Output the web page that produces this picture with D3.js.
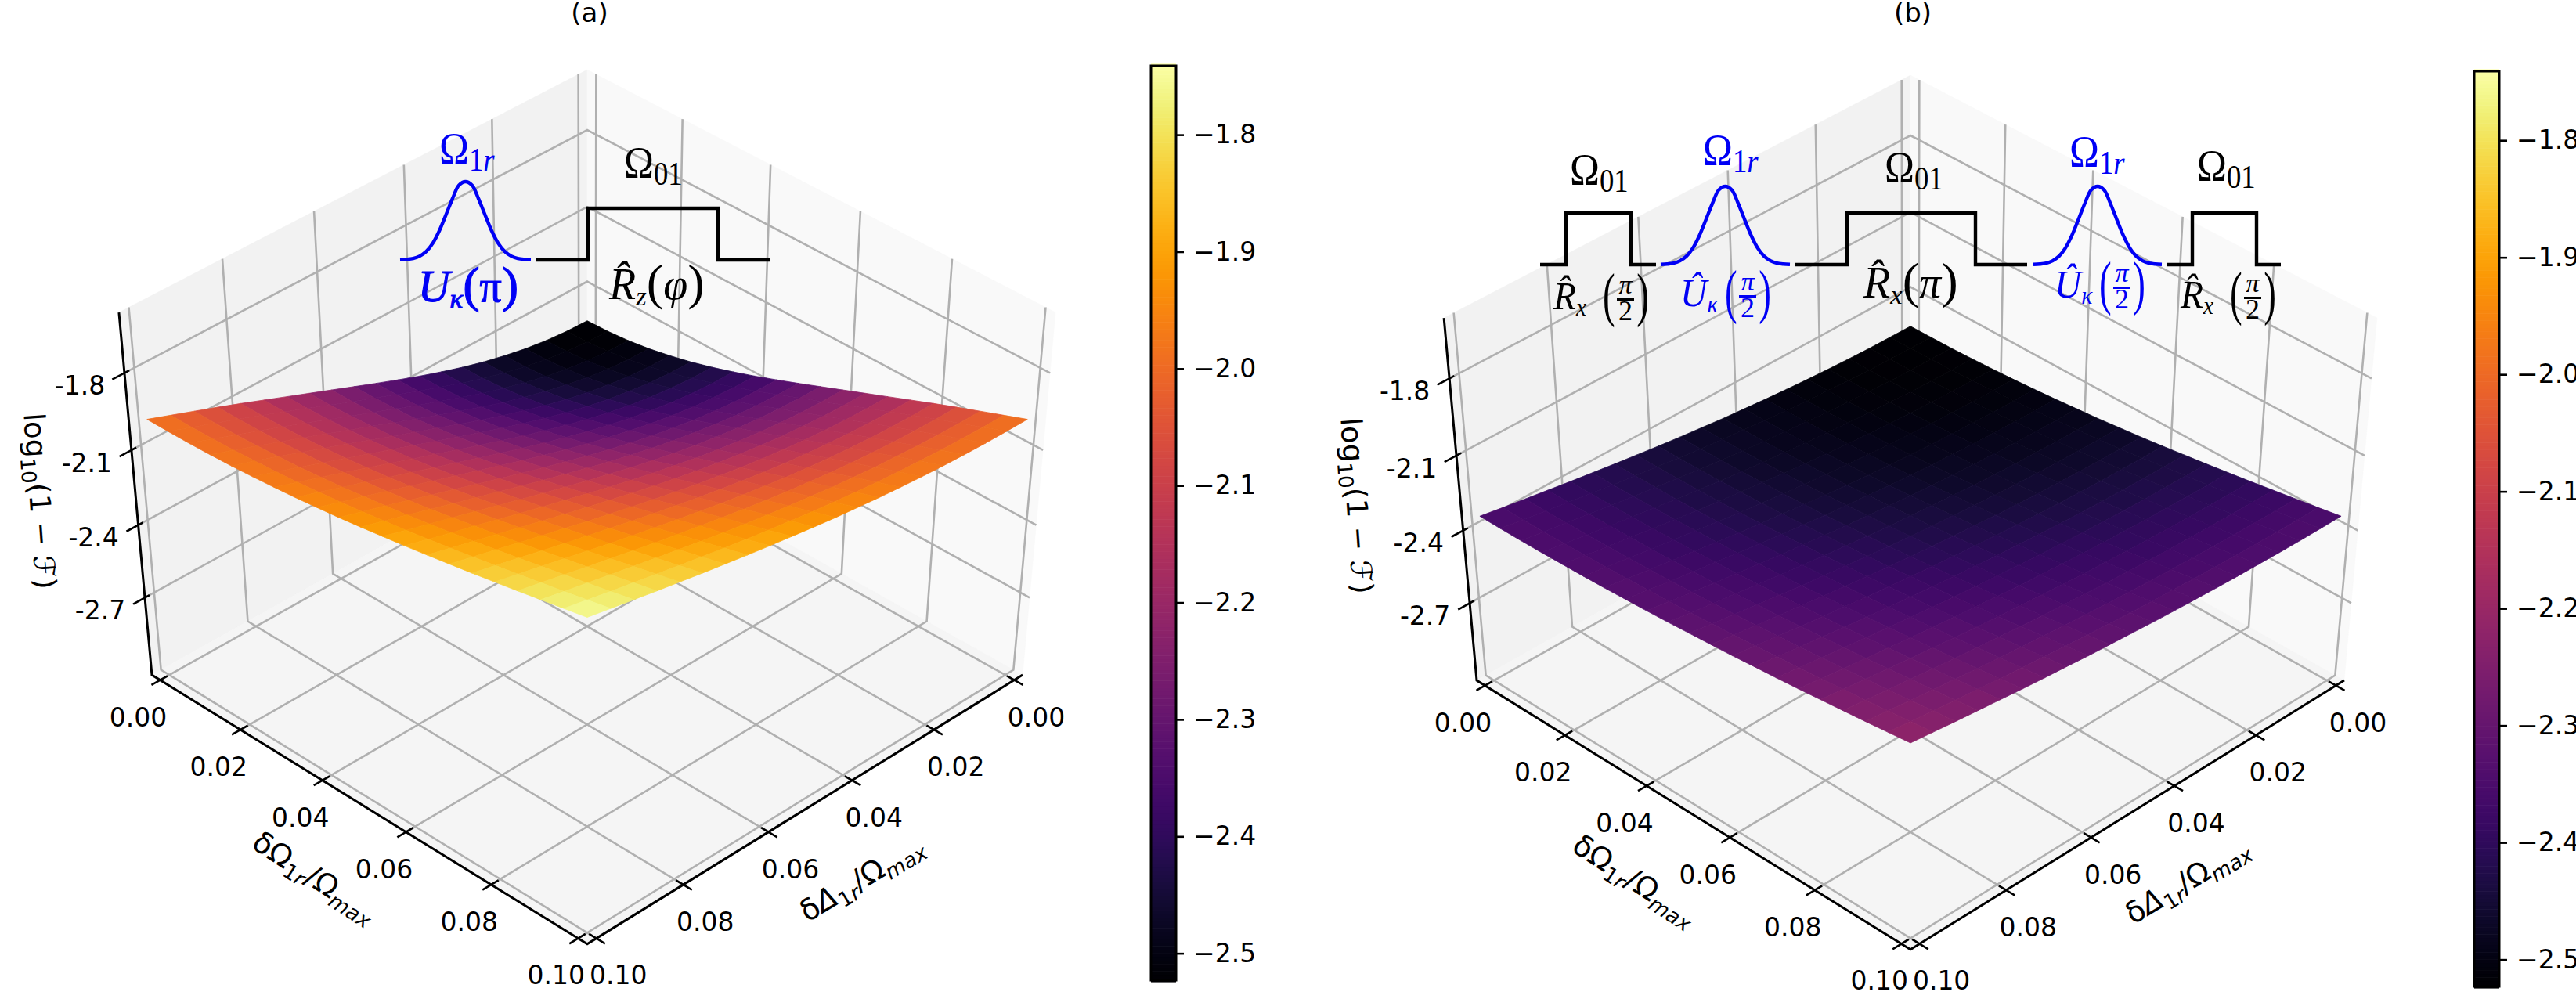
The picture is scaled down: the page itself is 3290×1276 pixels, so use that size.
<!DOCTYPE html>
<html><head><meta charset="utf-8">
<script src="https://cdn.jsdelivr.net/npm/d3@7/dist/d3.min.js"></script>
<style>
html,body{margin:0;padding:0;background:#fff;overflow:hidden}
text{font-family:"DejaVu Sans",sans-serif;fill:#000}
</style></head><body>
<svg id="fig" width="3290" height="1276" xmlns="http://www.w3.org/2000/svg"></svg>
<script>
// ---------- data ----------
const axisTicks = [0, 0.02, 0.04, 0.06, 0.08, 0.1];
const axisTickLabels = ["0.00","0.02","0.04","0.06","0.08","0.10"];
const zTicks = [-1.8, -2.1, -2.4, -2.7];
const zTickLabels = ["-1.8","-2.1","-2.4","-2.7"];
const cbTicks = [-1.8,-1.9,-2.0,-2.1,-2.2,-2.3,-2.4,-2.5];
const gridStep = 0.005;
const colorMin = -2.523, colorMax = -1.741;
const xLimits = [0, 0.1], zLimits = [-3, -1.6];

// log10(1-F), upper triangle of each symmetric surface: row i holds columns j>=i
const surfaceA = [
[-2.523,-2.520,-2.512,-2.499,-2.481,-2.460,-2.435,-2.407,-2.377,-2.345,-2.312,-2.278,-2.244,-2.210,-2.176,-2.142,-2.108,-2.075,-2.043,-2.011,-1.979],
[-2.518,-2.509,-2.496,-2.479,-2.458,-2.433,-2.405,-2.375,-2.343,-2.310,-2.276,-2.243,-2.209,-2.175,-2.141,-2.107,-2.074,-2.042,-2.010,-1.978],
[-2.502,-2.489,-2.472,-2.451,-2.426,-2.399,-2.369,-2.338,-2.306,-2.272,-2.239,-2.205,-2.171,-2.137,-2.104,-2.071,-2.039,-2.007,-1.976],
[-2.477,-2.460,-2.439,-2.415,-2.389,-2.360,-2.329,-2.298,-2.265,-2.232,-2.198,-2.165,-2.132,-2.099,-2.067,-2.035,-2.003,-1.972],
[-2.444,-2.424,-2.401,-2.375,-2.347,-2.317,-2.286,-2.254,-2.222,-2.190,-2.157,-2.124,-2.092,-2.060,-2.028,-1.997,-1.967],
[-2.405,-2.383,-2.358,-2.331,-2.302,-2.272,-2.241,-2.210,-2.178,-2.146,-2.115,-2.083,-2.052,-2.021,-1.990,-1.960],
[-2.362,-2.338,-2.312,-2.285,-2.256,-2.226,-2.196,-2.165,-2.134,-2.103,-2.072,-2.042,-2.011,-1.982,-1.952],
[-2.316,-2.291,-2.265,-2.237,-2.209,-2.180,-2.150,-2.120,-2.090,-2.060,-2.030,-2.001,-1.971,-1.943],
[-2.268,-2.243,-2.217,-2.190,-2.161,-2.133,-2.104,-2.075,-2.046,-2.017,-1.988,-1.960,-1.932],
[-2.220,-2.195,-2.169,-2.142,-2.115,-2.087,-2.059,-2.031,-2.003,-1.975,-1.948,-1.921],
[-2.171,-2.146,-2.121,-2.095,-2.068,-2.042,-2.015,-1.988,-1.961,-1.934,-1.908],
[-2.123,-2.099,-2.074,-2.049,-2.023,-1.997,-1.971,-1.946,-1.920,-1.894],
[-2.076,-2.052,-2.028,-2.004,-1.979,-1.954,-1.930,-1.905,-1.880],
[-2.030,-2.007,-1.984,-1.960,-1.936,-1.913,-1.889,-1.865],
[-1.986,-1.963,-1.941,-1.918,-1.895,-1.872,-1.849],
[-1.942,-1.921,-1.899,-1.877,-1.855,-1.833],
[-1.900,-1.879,-1.858,-1.837,-1.816],
[-1.860,-1.839,-1.819,-1.799],
[-1.820,-1.801,-1.781],
[-1.782,-1.763],
[-1.745]];
const surfaceB = [
[-2.523,-2.522,-2.521,-2.518,-2.514,-2.509,-2.503,-2.496,-2.488,-2.480,-2.470,-2.460,-2.449,-2.437,-2.425,-2.412,-2.399,-2.385,-2.371,-2.357,-2.342],
[-2.522,-2.520,-2.518,-2.514,-2.508,-2.503,-2.496,-2.488,-2.479,-2.470,-2.460,-2.449,-2.437,-2.425,-2.412,-2.398,-2.385,-2.371,-2.356,-2.342],
[-2.519,-2.516,-2.512,-2.507,-2.501,-2.494,-2.486,-2.478,-2.468,-2.458,-2.447,-2.435,-2.423,-2.410,-2.397,-2.383,-2.369,-2.355,-2.341],
[-2.513,-2.509,-2.504,-2.498,-2.491,-2.484,-2.475,-2.466,-2.456,-2.445,-2.433,-2.421,-2.408,-2.395,-2.381,-2.367,-2.353,-2.339],
[-2.505,-2.501,-2.495,-2.488,-2.480,-2.472,-2.462,-2.452,-2.441,-2.430,-2.418,-2.405,-2.392,-2.378,-2.365,-2.350,-2.336],
[-2.496,-2.490,-2.483,-2.476,-2.467,-2.458,-2.448,-2.437,-2.426,-2.414,-2.401,-2.388,-2.375,-2.361,-2.347,-2.333],
[-2.484,-2.478,-2.470,-2.462,-2.453,-2.443,-2.432,-2.421,-2.409,-2.397,-2.384,-2.371,-2.357,-2.343,-2.329],
[-2.471,-2.464,-2.455,-2.446,-2.437,-2.426,-2.415,-2.403,-2.391,-2.378,-2.365,-2.352,-2.338,-2.324],
[-2.456,-2.448,-2.439,-2.430,-2.419,-2.408,-2.397,-2.385,-2.373,-2.360,-2.346,-2.333,-2.319],
[-2.440,-2.432,-2.422,-2.412,-2.401,-2.390,-2.378,-2.366,-2.353,-2.340,-2.327,-2.313],
[-2.423,-2.414,-2.404,-2.393,-2.382,-2.371,-2.358,-2.346,-2.333,-2.320,-2.306],
[-2.405,-2.395,-2.385,-2.374,-2.362,-2.350,-2.338,-2.325,-2.313,-2.299],
[-2.385,-2.375,-2.365,-2.353,-2.342,-2.330,-2.317,-2.305,-2.292],
[-2.365,-2.355,-2.344,-2.333,-2.321,-2.309,-2.296,-2.283],
[-2.345,-2.334,-2.323,-2.311,-2.300,-2.287,-2.275],
[-2.324,-2.313,-2.302,-2.290,-2.278,-2.266],
[-2.302,-2.291,-2.280,-2.268,-2.256],
[-2.280,-2.269,-2.258,-2.246],
[-2.259,-2.247,-2.236],
[-2.236,-2.225],
[-2.214]];
// normalised pulse shape samples: [time, amplitude]
const gaussianShape = [[-1,.002],[-.9,.007],[-.8,.019],[-.7,.049],[-.6,.108],[-.5,.214],[-.4,.373],[-.3,.574],[-.2,.78],[-.1,.955],[0,1],[.1,.955],[.2,.78],[.3,.574],[.4,.373],[.5,.214],[.6,.108],[.7,.049],[.8,.019],[.9,.007],[1,.002]];

// ---------- layout ----------
const elev = 45*Math.PI/180, camDist = 9.7;
const panels = [
 {title:"(a)", cx:750, y0:639, sx:815, sy:654, surf:surfaceA, titleY:28, zLabel:[38,641],
  xLabel:[395,1131,33], yLabel:[1107,1133,-31], yLabelGlyph:"Δ",
  cb:{x0:1470,x1:1502,top:84,bottom:1252}},
 {title:"(b)", cx:2440, y0:646, sx:812, sy:654, surf:surfaceB, titleY:28, zLabel:[1720,647],
  xLabel:[2081,1135,33], yLabel:[2800,1136,-31], yLabelGlyph:"Δ",
  cb:{x0:3160,x1:3192,top:91,bottom:1260}}
];
const blue = "#0000f5";
const pulsesA = {base:332, blueTop:232, blackTop:266, items:[
 {k:"g",x0:511,x1:678},
 {k:"s",x0:684,x1:983,r:751,f:917}]};
const pulsesB = {base:338, blueTop:238, blackTop:272, items:[
 {k:"s",x0:1967,x1:2115,r:2000,f:2083},
 {k:"g",x0:2121,x1:2286},
 {k:"s",x0:2292,x1:2589,r:2359,f:2523},
 {k:"g",x0:2597,x1:2761},
 {k:"s",x0:2767,x1:2913,r:2800,f:2882}]};

// ---------- helpers ----------
const svg = d3.select("#fig");
const pad = (xLimits[1]-xLimits[0])/48, zPad = (zLimits[1]-zLimits[0])/48;
const xDom = [xLimits[0]-pad, xLimits[1]+pad], zDom = [zLimits[0]-zPad, zLimits[1]+zPad];
const sX = d3.scaleLinear().domain(xDom).range([-.5,.5]);
const sZ = d3.scaleLinear().domain(zDom).range([-.5,.5]);
const color = d3.scaleSequential(d3.interpolateInferno).domain([colorMin,colorMax]);
const line = d3.line();
const ce=Math.cos(elev), se=Math.sin(elev);
const tri=(t,i,j)=> i<=j ? t[i][j-i] : t[j][i-j];

function projector(p){
  return (x,y,z)=>{
    const a=sX(x), b=sX(y), c=sZ(z);
    const u=(a-b)/Math.SQRT2, w=(a+b)/Math.SQRT2;
    const d=1-(w*ce+c*se)/camDist;
    return [p.cx+p.sx*u/d, p.y0-p.sy*(c*ce-w*se)/d];
  };
}
function richText(g,x,y,parts,opts={}){
  const t=g.append("text").attr("transform",`translate(${x},${y}) rotate(${opts.rot||0}) scale(${opts.sx||1},1)`)
    .attr("text-anchor",opts.anchor||"start").style("font-size",(opts.size||33)+"px");
  if(opts.family) t.style("font-family",opts.family);
  if(opts.color) t.style("fill",opts.color);
  if(opts.strokeW) t.style("stroke",opts.color||"#000").style("stroke-width",opts.strokeW);
  let shift=0;
  parts.forEach(q=>{
    const s=t.append("tspan").text(q.t);
    const sz=(opts.size||33)*(q.scale||1);
    const want=q.dy?q.dy:0;
    s.attr("dy",want-shift).style("font-size",sz+"px");
    if(q.it) s.style("font-style","italic");
    shift=want;
  });
  return t;
}

function drawPanel(p){
  const P=projector(p), g=svg.append("g");
  const [lo,hi]=xDom,[zl,zh]=zDom;
  const poly=(pts,fill)=>g.append("path").attr("d",line(pts)+"Z").attr("fill",fill).attr("stroke",fill).attr("stroke-width",.5);
  poly([P(lo,hi,zl),P(lo,lo,zl),P(lo,lo,zh),P(lo,hi,zh)],"#f2f2f2");
  poly([P(hi,lo,zl),P(lo,lo,zl),P(lo,lo,zh),P(hi,lo,zh)],"#f9f9f9");
  poly([P(lo,lo,zl),P(hi,lo,zl),P(hi,hi,zl),P(lo,hi,zl)],"#f5f5f5");
  const grid=g.append("g").attr("fill","none").attr("stroke","#b0b0b0").attr("stroke-width",2.6);
  const gl=pts=>grid.append("path").attr("d",line(pts));
  axisTicks.forEach(t=>{
    gl([P(t,hi,zl),P(t,lo,zl),P(t,lo,zh)]);
    gl([P(hi,t,zl),P(lo,t,zl),P(lo,t,zh)]);
  });
  zTicks.forEach(z=>gl([P(lo,hi,z),P(lo,lo,z),P(hi,lo,z)]));
  // axis lines
  const ax=g.append("g").attr("fill","none").attr("stroke","#000").attr("stroke-width",3);
  ax.append("path").attr("d",line([P(lo,hi,zh),P(lo,hi,zl),P(hi,hi,zl),P(hi,lo,zl)]));
  const unit=hi-lo;
  const tk=g.append("g").attr("fill","none").attr("stroke","#000").attr("stroke-width",2.6);
  const lbl=g.append("g").attr("text-anchor","middle").style("font-size","33px");
  axisTicks.forEach((t,i)=>{
    tk.append("path").attr("d",line([P(t,hi+.019*unit,zl),P(t,hi-.016*unit,zl)]));
    tk.append("path").attr("d",line([P(hi+.019*unit,t,zl),P(hi-.016*unit,t,zl)]));
    const a=P(t,hi,zl), b=P(hi,t,zl);
    lbl.append("text").attr("x",a[0]-28).attr("y",a[1]+47).attr("dy",".36em").text(axisTickLabels[i]);
    lbl.append("text").attr("x",b[0]+28).attr("y",b[1]+47).attr("dy",".36em").text(axisTickLabels[i]);
  });
  zTicks.forEach((z,i)=>{
    tk.append("path").attr("d",line([P(lo,hi+.025*unit,z),P(lo,hi-.01*unit,z)]));
    const a=P(lo,hi,z);
    lbl.append("text").attr("x",a[0]-57).attr("y",a[1]+16).attr("dy",".36em").text(zTickLabels[i]);
  });
  // surface facets, painted from back to front
  const n=p.surf.length-1, facets=[];
  const coord=d3.range(n+1).map(i=>i*gridStep);
  for(let i=0;i<n;i++)for(let j=0;j<n;j++){
    const zs=[tri(p.surf,i,j),tri(p.surf,i+1,j),tri(p.surf,i+1,j+1),tri(p.surf,i,j+1)];
    facets.push({i,j,v:d3.mean(zs),
      pts:[P(coord[i],coord[j],zs[0]),P(coord[i+1],coord[j],zs[1]),P(coord[i+1],coord[j+1],zs[2]),P(coord[i],coord[j+1],zs[3])]});
  }
  facets.sort((a,b)=>(a.i+a.j)-(b.i+b.j));
  g.append("g").selectAll("path").data(facets).join("path")
    .attr("d",f=>line(f.pts)+"Z").attr("fill",f=>color(f.v)).attr("stroke",f=>color(f.v)).attr("stroke-width",.8);
  // titles + axis labels
  g.append("text").attr("x",p.cx+3).attr("y",p.titleY).attr("text-anchor","middle").style("font-size","34px").text(p.title);
  richText(g,p.zLabel[0],p.zLabel[1],[{t:"log"},{t:"10",scale:.7,dy:8},{t:"(1 − "},{t:"ℱ",it:1},{t:")"}],{rot:86,anchor:"middle",size:37});
  const lab=(pos,glyph,italic)=>richText(g,pos[0],pos[1],[{t:"δ"},{t:glyph,it:italic},{t:"1",scale:.7,dy:8},{t:"r",scale:.7,dy:8,it:1},{t:"/Ω"},{t:"max",scale:.7,dy:8,it:1}],{rot:pos[2],anchor:"middle",size:38});
  lab(p.xLabel,"Ω",0); lab(p.yLabel,p.yLabelGlyph,1);
  // colorbar
  const cb=p.cb, cbScale=d3.scaleLinear().domain([colorMin,colorMax]).range([cb.bottom,cb.top]);
  const cg=svg.append("g");
  const rows=d3.range(256).map(k=>colorMin+(colorMax-colorMin)*k/255);
  const h=(cb.bottom-cb.top)/256;
  cg.selectAll("rect").data(rows).join("rect").attr("x",cb.x0).attr("width",cb.x1-cb.x0)
    .attr("y",v=>cbScale(v)-h*.5-.3).attr("height",h+.6).attr("fill",v=>color(v));
  cg.append("rect").attr("x",cb.x0).attr("y",cb.top).attr("width",cb.x1-cb.x0).attr("height",cb.bottom-cb.top).attr("fill","none").attr("stroke","#000").attr("stroke-width",3);
  const ag=cg.append("g").attr("transform",`translate(${cb.x1},0)`)
    .call(d3.axisRight(cbScale).tickValues(cbTicks).tickSize(10).tickPadding(12).tickFormat(d3.format(".1f")));
  ag.select(".domain").remove();
  ag.selectAll("line").attr("stroke-width",2.6);
  ag.selectAll("text").style("font-size","33px").style("font-family","'DejaVu Sans'");
}

function drawPulses(pl){
  const g=svg.append("g").attr("fill","none").attr("stroke-width",4.4);
  const yS=d3.scaleLinear().domain([0,1]);
  pl.items.forEach(it=>{
    if(it.k==="g"){
      const xS=d3.scaleLinear().domain([-1,1]).range([it.x0,it.x1]);
      yS.range([pl.base,pl.blueTop]);
      g.append("path").attr("stroke",blue)
       .attr("d",d3.line().x(d=>xS(d[0])).y(d=>yS(d[1])).curve(d3.curveCatmullRom)(gaussianShape));
    } else {
      yS.range([pl.base,pl.blackTop]);
      const pts=[[it.x0,0],[it.r,0],[it.r,1],[it.f,1],[it.f,0],[it.x1,0]];
      g.append("path").attr("stroke","#000").attr("d",d3.line().x(d=>d[0]).y(d=>yS(d[1]))(pts));
    }
  });
}

// ---------- formula annotations ----------
const serif="'Liberation Serif',serif";
function omega(x,base,sub,col){
  richText(svg,x,base,[{t:"Ω"},{t:sub[0],scale:.72,dy:9},{t:sub[1],scale:.72,dy:9,it:sub[1]==="r"}],{size:58,family:serif,color:col,sx:.88});
}
function gate(x,base,letter,sub,arg,col){
  richText(svg,x,base,[{t:letter,it:1},{t:sub,it:1,scale:.62,dy:8},{t:arg[0],scale:1.15},{t:arg[1],it:1},{t:arg[2],scale:1.15}],{size:56,family:serif,color:col,sx:1.0});
}
function fracGate(x,base,letter,sub,col){
  const fam=serif, isR=letter.startsWith("R"), off=isR?63:57;
  richText(svg,x,base,[{t:letter,it:1},{t:sub,it:1,scale:.62,dy:8}],{size:50,family:fam,color:col,sx:.95});
  richText(svg,x+off,base+7,[{t:"("}],{size:76,family:fam,color:col,sx:.62});
  richText(svg,x+off+59,base+7,[{t:")"}],{size:76,family:fam,color:col,sx:.62,anchor:"end"});
  const cx=x+off+29;
  richText(svg,cx,base-20,[{t:"π",it:1}],{size:34,family:fam,color:col,anchor:"middle"});
  svg.append("rect").attr("x",cx-11).attr("y",base-14).attr("width",22).attr("height",3).attr("fill",col);
  richText(svg,cx,base+14,[{t:"2"}],{size:36,family:fam,color:col,anchor:"middle"});
}

panels.forEach(drawPanel);
drawPulses(pulsesA);
drawPulses(pulsesB);

omega(561,209,"1r",blue);
omega(797,227,"01","#000");
richText(svg,534,385,[{t:"U",it:1},{t:"κ",it:1,scale:.62,dy:8},{t:"(",scale:1.15},{t:"π"},{t:")",scale:1.15}],{size:56,family:serif,color:blue,strokeW:1.1});
gate(778,382,"R\u0302","z","(φ)","#000");

omega(2005,236,"01","#000");
omega(2175,211,"1r",blue);
omega(2407,233,"01","#000");
omega(2643,213,"1r",blue);
omega(2806,231,"01","#000");
fracGate(1984,395,"R\u0302","x","#000");
fracGate(2146,391,"U\u0302","κ",blue);
gate(2380,380,"R\u0302","x","(π)","#000");
fracGate(2624,380,"U\u0302","κ",blue);
fracGate(2785,393,"R\u0302","x","#000");
</script>
</body></html>
